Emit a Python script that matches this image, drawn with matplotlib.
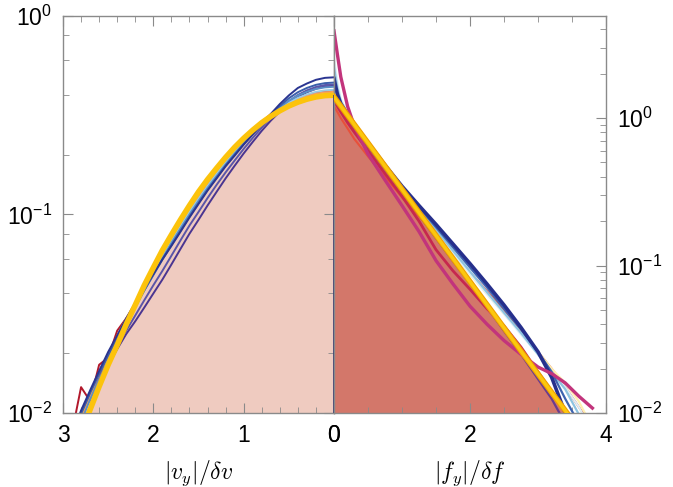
import numpy as np
import matplotlib.pyplot as plt
from matplotlib.ticker import FixedLocator, NullFormatter, LogLocator

plt.rcParams['font.family'] = ['Liberation Sans', 'DejaVu Sans']
plt.rcParams['mathtext.fontset'] = 'cm'

# ---- left panel: |v_y|/dv, bins every 0.1 ----
v_bins = np.linspace(0.0, 2.9, 30)

v_fit = [0.399, 0.397, 0.391, 0.381, 0.368, 0.352, 0.333, 0.312, 0.290, 0.266,
         0.242, 0.218, 0.194, 0.171, 0.150, 0.130, 0.111, 0.094, 0.079, 0.066,
         0.054, 0.044, 0.035, 0.028, 0.022, 0.0175, 0.0136, 0.0104, 0.0079, 0.0060]

v_navy = [0.491, 0.488, 0.477, 0.457, 0.434, 0.398, 0.360, 0.321, 0.284, 0.253,
          0.225, 0.198, 0.175, 0.152, 0.132, 0.113, 0.0966, 0.0818, 0.0695, 0.0594,
          0.0502, 0.0427, 0.0357, 0.0300, 0.0246, 0.0203, 0.0163, 0.0130, 0.0103, 0.0078]
v_blue = [0.462, 0.459, 0.450, 0.434, 0.413, 0.385, 0.352, 0.318, 0.284, 0.254,
          0.226, 0.200, 0.176, 0.153, 0.133, 0.114, 0.0975, 0.0826, 0.0700, 0.0592,
          0.0495, 0.0415, 0.0345, 0.0285, 0.0236, 0.0195, 0.0157, 0.0126, 0.0099, 0.0076]
v_steel = [0.440, 0.437, 0.429, 0.415, 0.397, 0.374, 0.346, 0.316, 0.286, 0.257,
           0.229, 0.203, 0.179, 0.156, 0.136, 0.117, 0.100, 0.0850, 0.0718, 0.0602,
           0.0500, 0.0414, 0.0340, 0.0278, 0.0226, 0.0184, 0.0148, 0.0117, 0.0090, 0.0068]
v_light = [0.425, 0.422, 0.415, 0.403, 0.387, 0.367, 0.343, 0.316, 0.288, 0.260,
           0.233, 0.207, 0.183, 0.160, 0.139, 0.120, 0.103, 0.0870, 0.0735, 0.0615,
           0.0510, 0.0418, 0.0340, 0.0276, 0.0222, 0.0178, 0.0141, 0.0110, 0.0085, 0.0064]
v_orange = [0.415, 0.412, 0.406, 0.395, 0.381, 0.363, 0.342, 0.317, 0.291, 0.264,
            0.238, 0.212, 0.188, 0.165, 0.144, 0.124, 0.106, 0.0900, 0.0760, 0.0640,
            0.0530, 0.0445, 0.0360, 0.0300, 0.0245, 0.0190, 0.0160, 0.0120, 0.0095, 0.0072]
v_red = [0.420, 0.418, 0.410, 0.398, 0.383, 0.364, 0.343, 0.320, 0.294, 0.268,
         0.240, 0.213, 0.187, 0.163, 0.141, 0.121, 0.103, 0.0880, 0.0735, 0.0620,
         0.0520, 0.0430, 0.0355, 0.0290, 0.0240, 0.0200, 0.0150, 0.0125, 0.0100, 0.0075]
v_darkred = [0.418, 0.416, 0.409, 0.397, 0.382, 0.363, 0.342, 0.318, 0.292, 0.266,
             0.239, 0.212, 0.186, 0.162, 0.140, 0.120, 0.102, 0.0870, 0.0730, 0.0615,
             0.0515, 0.0425, 0.0350, 0.0300, 0.0260, 0.0190, 0.0175, 0.0115, 0.0135, 0.0080]
v_slate = [0.452, 0.449, 0.439, 0.422, 0.400, 0.372, 0.340, 0.307, 0.274, 0.243,
           0.214, 0.187, 0.163, 0.141, 0.121, 0.103, 0.088, 0.074, 0.062, 0.052,
           0.044, 0.037, 0.031, 0.026, 0.022, 0.0180, 0.0147, 0.0119, 0.0096, 0.0073]
v_purple = [0.445, 0.442, 0.430, 0.413, 0.390, 0.362, 0.330, 0.297, 0.264, 0.232,
            0.203, 0.176, 0.152, 0.130, 0.111, 0.094, 0.080, 0.067, 0.056, 0.047,
            0.040, 0.034, 0.029, 0.025, 0.021, 0.0175, 0.0145, 0.0118, 0.0095, 0.0072]

# ---- right panel: |f_y|/df ----
f_bins = [0.0, 0.05, 0.1, 0.2, 0.3, 0.5, 0.75, 1.0, 1.25, 1.5, 1.75, 2.0,
          2.25, 2.5, 2.75, 3.0, 3.2, 3.4, 3.6, 3.8]

f_fit = [1.39, 1.293, 1.204, 1.042, 0.902, 0.677, 0.472, 0.329, 0.229, 0.160,
         0.1115, 0.0777, 0.0542, 0.0378, 0.0263, 0.0184, 0.0138, 0.0104, 0.0078, 0.0058]

f_navy = [1.85, 1.45, 1.25, 1.06, 0.91, 0.68, 0.48, 0.345, 0.255, 0.190,
          0.140, 0.103, 0.075, 0.054, 0.038, 0.026, 0.0175, 0.0100, 0.0060, 0.0040]
f_blue = [1.75, 1.42, 1.24, 1.05, 0.905, 0.678, 0.476, 0.340, 0.248, 0.182,
          0.133, 0.097, 0.071, 0.051, 0.037, 0.026, 0.019, 0.0125, 0.0085, 0.0060]
f_light = [2.2, 1.6, 1.3, 1.07, 0.91, 0.68, 0.475, 0.337, 0.242, 0.175,
           0.126, 0.091, 0.066, 0.048, 0.035, 0.025, 0.019, 0.0145, 0.0098, 0.0060]
f_pale = [2.5, 1.75, 1.35, 1.08, 0.915, 0.68, 0.474, 0.334, 0.238, 0.170,
          0.122, 0.088, 0.064, 0.047, 0.034, 0.025, 0.019, 0.015, 0.011, 0.0075]
f_cream = [2.3, 1.65, 1.32, 1.07, 0.91, 0.678, 0.473, 0.333, 0.237, 0.169,
           0.121, 0.087, 0.064, 0.047, 0.035, 0.026, 0.020, 0.016, 0.012, 0.0080]
f_red = [1.2, 1.1, 1.0, 0.85, 0.72, 0.55, 0.40, 0.29, 0.215, 0.160,
         0.120, 0.090, 0.067, 0.050, 0.036, 0.026, 0.020, 0.015, 0.011, 0.0080]
f_magenta = [3.9, 2.7, 1.9, 1.2, 0.88, 0.57, 0.38, 0.255, 0.17, 0.108,
             0.075, 0.053, 0.040, 0.031, 0.025, 0.0205, 0.0185, 0.016, 0.013, 0.0108]
f_crimson = [1.3, 1.2, 1.1, 0.93, 0.80, 0.60, 0.42, 0.295, 0.200, 0.128,
             0.092, 0.069, 0.051, 0.039, 0.028, 0.019, 0.014, 0.0105, 0.0075, 0.0050]
f_purple = [1.35, 1.25, 1.15, 0.99, 0.85, 0.64, 0.45, 0.315, 0.22, 0.153,
            0.107, 0.075, 0.052, 0.036, 0.025, 0.017, 0.0125, 0.0085, 0.0060, 0.0040]

spine_grey = '#8a8a8a'


def style_axis(ax):
    for s in ax.spines.values():
        s.set_color(spine_grey)
        s.set_linewidth(1.0)
    ax.tick_params(which='both', direction='in', color=spine_grey,
                   top=True, labelsize=16.5, pad=8)
    ax.tick_params(which='major', length=7)
    ax.tick_params(which='minor', length=4)


fig = plt.figure(figsize=(6.73, 4.87), dpi=100)
ax1 = fig.add_axes([63 / 673, 1 - 413 / 487, 271 / 673, 397 / 487])
ax2 = fig.add_axes([334 / 673, 1 - 413 / 487, 272 / 673, 397 / 487])

# left panel
ax1.set_yscale('log')
ax1.fill_between(v_bins, 1e-3, v_fit, color='#efcbc0', lw=0, zorder=1)
left_curves = [(v_purple, '#4a3591'), (v_slate, '#5a55a8'), (v_darkred, '#b2182b'),
               (v_red, '#e0463a'), (v_orange, '#f6a15a'), (v_light, '#9ccbe3'),
               (v_steel, '#5b8fc6'), (v_blue, '#3b5eab'), (v_navy, '#2a3591')]
for vals, c in left_curves:
    ax1.plot(v_bins, vals, color=c, lw=1.4, zorder=2)
ax1.plot(v_bins, v_fit, color='#fcc30b', lw=4, solid_capstyle='butt', zorder=3)
ax1.vlines(v_bins[0], 1e-3, v_fit[0], color='#2b2f6b', lw=1.2, zorder=4)
ax1.set_xlim(3, 0)
ax1.set_ylim(0.01, 1)
ax1.xaxis.set_major_locator(FixedLocator([3, 2, 1, 0]))
ax1.xaxis.set_minor_locator(FixedLocator(np.arange(0.2, 3, 0.2)))
ax1.yaxis.set_major_locator(FixedLocator([0.01, 0.1, 1]))
ax1.yaxis.set_minor_locator(FixedLocator([0.02, 0.04, 0.06, 0.08, 0.2, 0.4, 0.6, 0.8]))
ax1.yaxis.set_minor_formatter(NullFormatter())
style_axis(ax1)
ax1.tick_params(which='both', right=True)
ax1.set_xlabel(r'$|v_y|/\delta v$', fontsize=17, labelpad=8)

# right panel
ax2.set_yscale('log')
ax2.fill_between(f_bins, 1e-3, f_fit, color='#d3776a', lw=0, zorder=1)
right_curves = [(f_red, '#e8503a', 1.5), (f_cream, '#fff0b0', 1.5), (f_pale, '#dcefF6', 1.5),
                (f_light, '#8ec3e0', 1.6), (f_blue, '#3d63b0', 1.6), (f_navy, '#262f8c', 2.6),
                (f_purple, '#6a3c8e', 1.6), (f_crimson, '#c6284f', 2.0),
                (f_magenta, '#c2347c', 2.4)]
for vals, c, w in right_curves:
    ax2.plot(f_bins, vals, color=c, lw=w, zorder=2)
ax2.plot(f_bins, f_fit, color='#f0a000', lw=4, zorder=3)
ax2.plot(f_bins, f_fit, color='#fcc80e', lw=2.4, zorder=3)
ax2.set_xlim(0, 4)
ax2.set_ylim(0.01, 4.92)
ax2.xaxis.set_major_locator(FixedLocator([0, 2, 4]))
ax2.xaxis.set_minor_locator(FixedLocator([0.5, 1, 1.5, 2.5, 3, 3.5]))
ax2.yaxis.set_major_locator(FixedLocator([0.01, 0.1, 1]))
ax2.yaxis.set_minor_locator(LogLocator(base=10, subs=np.arange(2, 10)))
ax2.yaxis.set_minor_formatter(NullFormatter())
style_axis(ax2)
ax2.tick_params(which='both', left=False, right=True, labelleft=False, labelright=True)
ax2.set_xlabel(r'$|f_y|/\delta f$', fontsize=17, labelpad=8)

fig.savefig('out.png', dpi=100)
